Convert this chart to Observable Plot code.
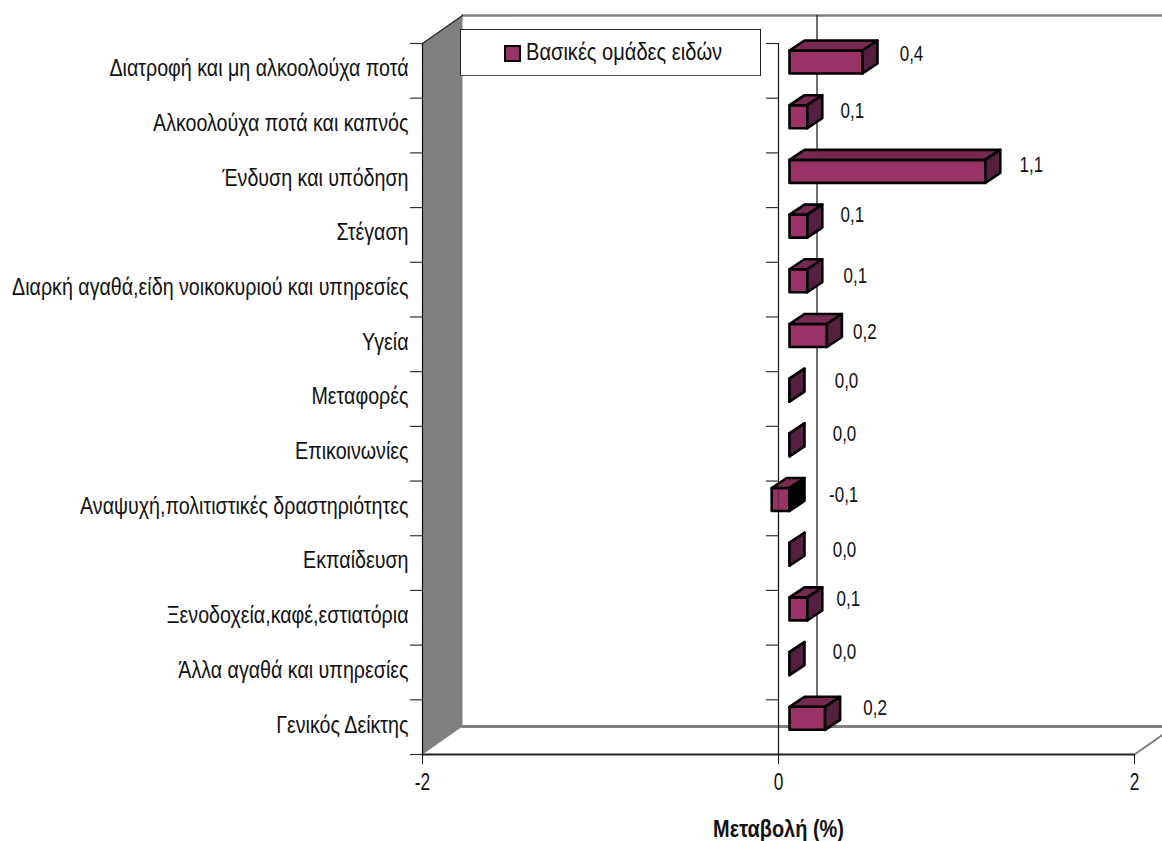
<!DOCTYPE html>
<html lang="el">
<head>
<meta charset="utf-8">
<script src="https://cdn.jsdelivr.net/npm/d3@7"></script>
<script src="https://cdn.jsdelivr.net/npm/@observablehq/plot@0.6"></script>
<style>
  html, body { margin: 0; padding: 0; background: #fff; }
  #wrap { position: relative; width: 1162px; height: 841px; overflow: hidden; font-family: "Liberation Sans", Arial, sans-serif; }
  #wrap svg { display: block; }
  #legend { position: absolute; left: 460px; top: 29px; width: 299px; height: 45px; box-sizing: content-box; background: #fff;
    border: 1px solid #222; border-bottom-color: #555; font-size: 23px; color: #111; }
  #legend i { position: absolute; left: 43px; top: 15px; width: 13px; height: 13px; background: #993366; border: 2.5px solid #000; }
  #legend span { position: absolute; left: 65px; top: 9px; white-space: nowrap; transform: scaleX(0.873); transform-origin: left center; }
</style>
</head>
<body>
<div id="wrap"></div>
<script>
const categories = [
  "Διατροφή και μη αλκοολούχα ποτά",
  "Αλκοολούχα ποτά και καπνός",
  "Ένδυση και υπόδηση",
  "Στέγαση",
  "Διαρκή αγαθά,είδη νοικοκυριού και υπηρεσίες",
  "Υγεία",
  "Μεταφορές",
  "Επικοινωνίες",
  "Αναψυχή,πολιτιστικές δραστηριότητες",
  "Εκπαίδευση",
  "Ξενοδοχεία,καφέ,εστιατόρια",
  "Άλλα αγαθά και υπηρεσίες",
  "Γενικός Δείκτης"
];
const values = [0.41, 0.1, 1.1, 0.1, 0.1, 0.21, 0, 0, -0.1, 0, 0.1, 0, 0.2];
const xTicks = [-2, 0, 2];
const seriesName = "Βασικές ομάδες ειδών";
const axisTitle = "Μεταβολή (%)";
// the original's hand-placed data labels: offset from each bar's end, in pixels
const labelNudgeX = [60, 56, 57, 56, 59, 49, 68, 66, 83, 66, 52, 66, 61];
const labelNudgeY = [-17, -15, -15, -20, -14, -12, -18, -20, -13, -13, -19, -21, -19];

const W = 1162, H = 841, mL = 422, mR = 28, mT = 43, mB = 87;
const xUnit = (W - mL - mR) / 4, yUnit = (H - mT - mB) / 13;
const ux = px => px / xUnit, uy = px => px / yUnit;

// 3-D projection of the chart box and of the bars, in data units
const wallX = ux(40), wallY = uy(28);
const barShift = ux(11), barTop = uy(7), barBottom = uy(30), depthX = ux(15), depthY = uy(10);
const xMin = xTicks[0], xMax = xTicks[2], yMax = categories.length;

const polys = [];
values.forEach((v, i) => {
  const x0 = Math.min(0, v) + barShift, x1 = Math.max(0, v) + barShift;
  const t = i + barTop, b = i + barBottom;
  const add = (face, color, pts) => pts.forEach(([x, y]) => polys.push({id: i + face, color, x, y}));
  add("front", "#993366", [[x0, t], [x1, t], [x1, b], [x0, b]]);
  add("top", "#772a50", [[x0, t], [x0 + depthX, t - depthY], [x1 + depthX, t - depthY], [x1, t]]);
  add("side", v < 0 ? "#000000" : "#55203f", [[x1, t], [x1 + depthX, t - depthY], [x1 + depthX, b - depthY], [x1, b]]);
});

const wall = [[xMin, 0], [xMin + wallX, -wallY], [xMin + wallX, yMax - wallY], [xMin, yMax]].map(([x, y]) => ({x, y}));
const seg = (a, b) => [{x: a[0], y: a[1]}, {x: b[0], y: b[1]}];
const boundaries = d3.range(0, yMax + 1);
const rows = values.map((v, i) => ({
  v, i,
  lx: v + ux(labelNudgeX[i]),
  ly: i + 0.5 + uy(labelNudgeY[i]),
  label: v.toFixed(1).replace(".", ",")
}));
const centers = categories.map((c, i) => ({c, y: i + 0.5 + uy(-2)}));

const chart = Plot.plot({
  width: W, height: H,
  marginLeft: mL, marginRight: mR, marginTop: mT, marginBottom: mB,
  style: {fontFamily: '"Liberation Sans", Arial, sans-serif', fontSize: "21px", background: "#fff", overflow: "hidden"},
  x: {domain: [xMin, xMax]},
  y: {domain: [0, yMax], reverse: true, axis: null},
  color: {type: "identity"},
  marks: [
    // side wall, back wall edges, floor edges
    Plot.line(wall, {x: "x", y: "y", fill: "#808080", stroke: "none", curve: "linear-closed"}),
    Plot.line(seg([xMin + wallX, -wallY], [xMax + wallX, -wallY]), {x: "x", y: "y", stroke: "#808080", strokeWidth: 2.5}),
    Plot.line(seg([xMin + wallX, yMax - wallY], [xMax + wallX, yMax - wallY]), {x: "x", y: "y", stroke: "#808080", strokeWidth: 3}),
    Plot.line(seg([xMax, yMax], [xMax + wallX, yMax - wallY]), {x: "x", y: "y", stroke: "#808080", strokeWidth: 2}),
    Plot.line(seg([xMin, 0], [xMin + wallX, -wallY]), {x: "x", y: "y", stroke: "#222", strokeWidth: 1.2}),
    // zero line on the back wall
    Plot.ruleX([ux(38.5)], {y1: -wallY, y2: yMax - wallY, stroke: "#111", strokeWidth: 1.2}),
    // front axes
    Plot.ruleX([xMin, 0], {y1: 0, y2: yMax, stroke: "#111", strokeWidth: 1.2}),
    Plot.ruleY([yMax], {x1: xMin, x2: xMax, stroke: "#222", strokeWidth: 2}),
    Plot.ruleY(boundaries, {x1: xMin - ux(12), x2: xMin, stroke: "#333", strokeWidth: 1.2}),
    Plot.ruleY(boundaries, {x1: -ux(12), x2: 0, stroke: "#333", strokeWidth: 1.2}),
    // bars
    Plot.line(polys, {x: "x", y: "y", z: "id", fill: "color", stroke: "#000", strokeWidth: 2.6, strokeLinejoin: "round", curve: "linear-closed"}),
    Plot.ruleX([0], {y1: 8, y2: 10, stroke: "#111", strokeWidth: 1.2, strokeOpacity: 0.35}),
    // axes
    Plot.axisX({ticks: xTicks, tickFormat: d => String(d), tickSize: 10, tickPadding: 8, label: null, stroke: "#111", fill: "#111", fontSize: 24}),
    Plot.text(centers, {x: xMin, y: "y", text: "c", dx: -14, textAnchor: "end", fill: "#111", fontSize: 23}),
    // data labels and axis title
    Plot.text(rows, {x: "lx", y: "ly", text: "label", fill: "#111", fontSize: 22}),
    Plot.text([axisTitle], {x: 0, y: yMax, dy: 75, text: d => d, fontWeight: "bold", fontSize: 23, fill: "#111"})
  ]
});

// the reference's lettering is horizontally condensed: squeeze each label about its own anchor
chart.querySelectorAll("text").forEach(t => {
  const holder = t.closest("[font-size]");
  const size = holder ? parseFloat(holder.getAttribute("font-size")) : 21;
  const bold = t.closest("[font-weight]");
  const squeeze = bold ? 0.867 : size === 24 ? 0.72 : size === 23 ? 0.855 : 0.77;
  t.setAttribute("transform", `${t.getAttribute("transform") || ""} scale(${squeeze},1)`.trim());
});

const wrap = document.getElementById("wrap");
wrap.appendChild(chart);
const legend = document.createElement("div");
legend.id = "legend";
const swatch = document.createElement("i");
const name = document.createElement("span");
name.textContent = seriesName;
legend.append(swatch, name);
wrap.appendChild(legend);
</script>
</body>
</html>
